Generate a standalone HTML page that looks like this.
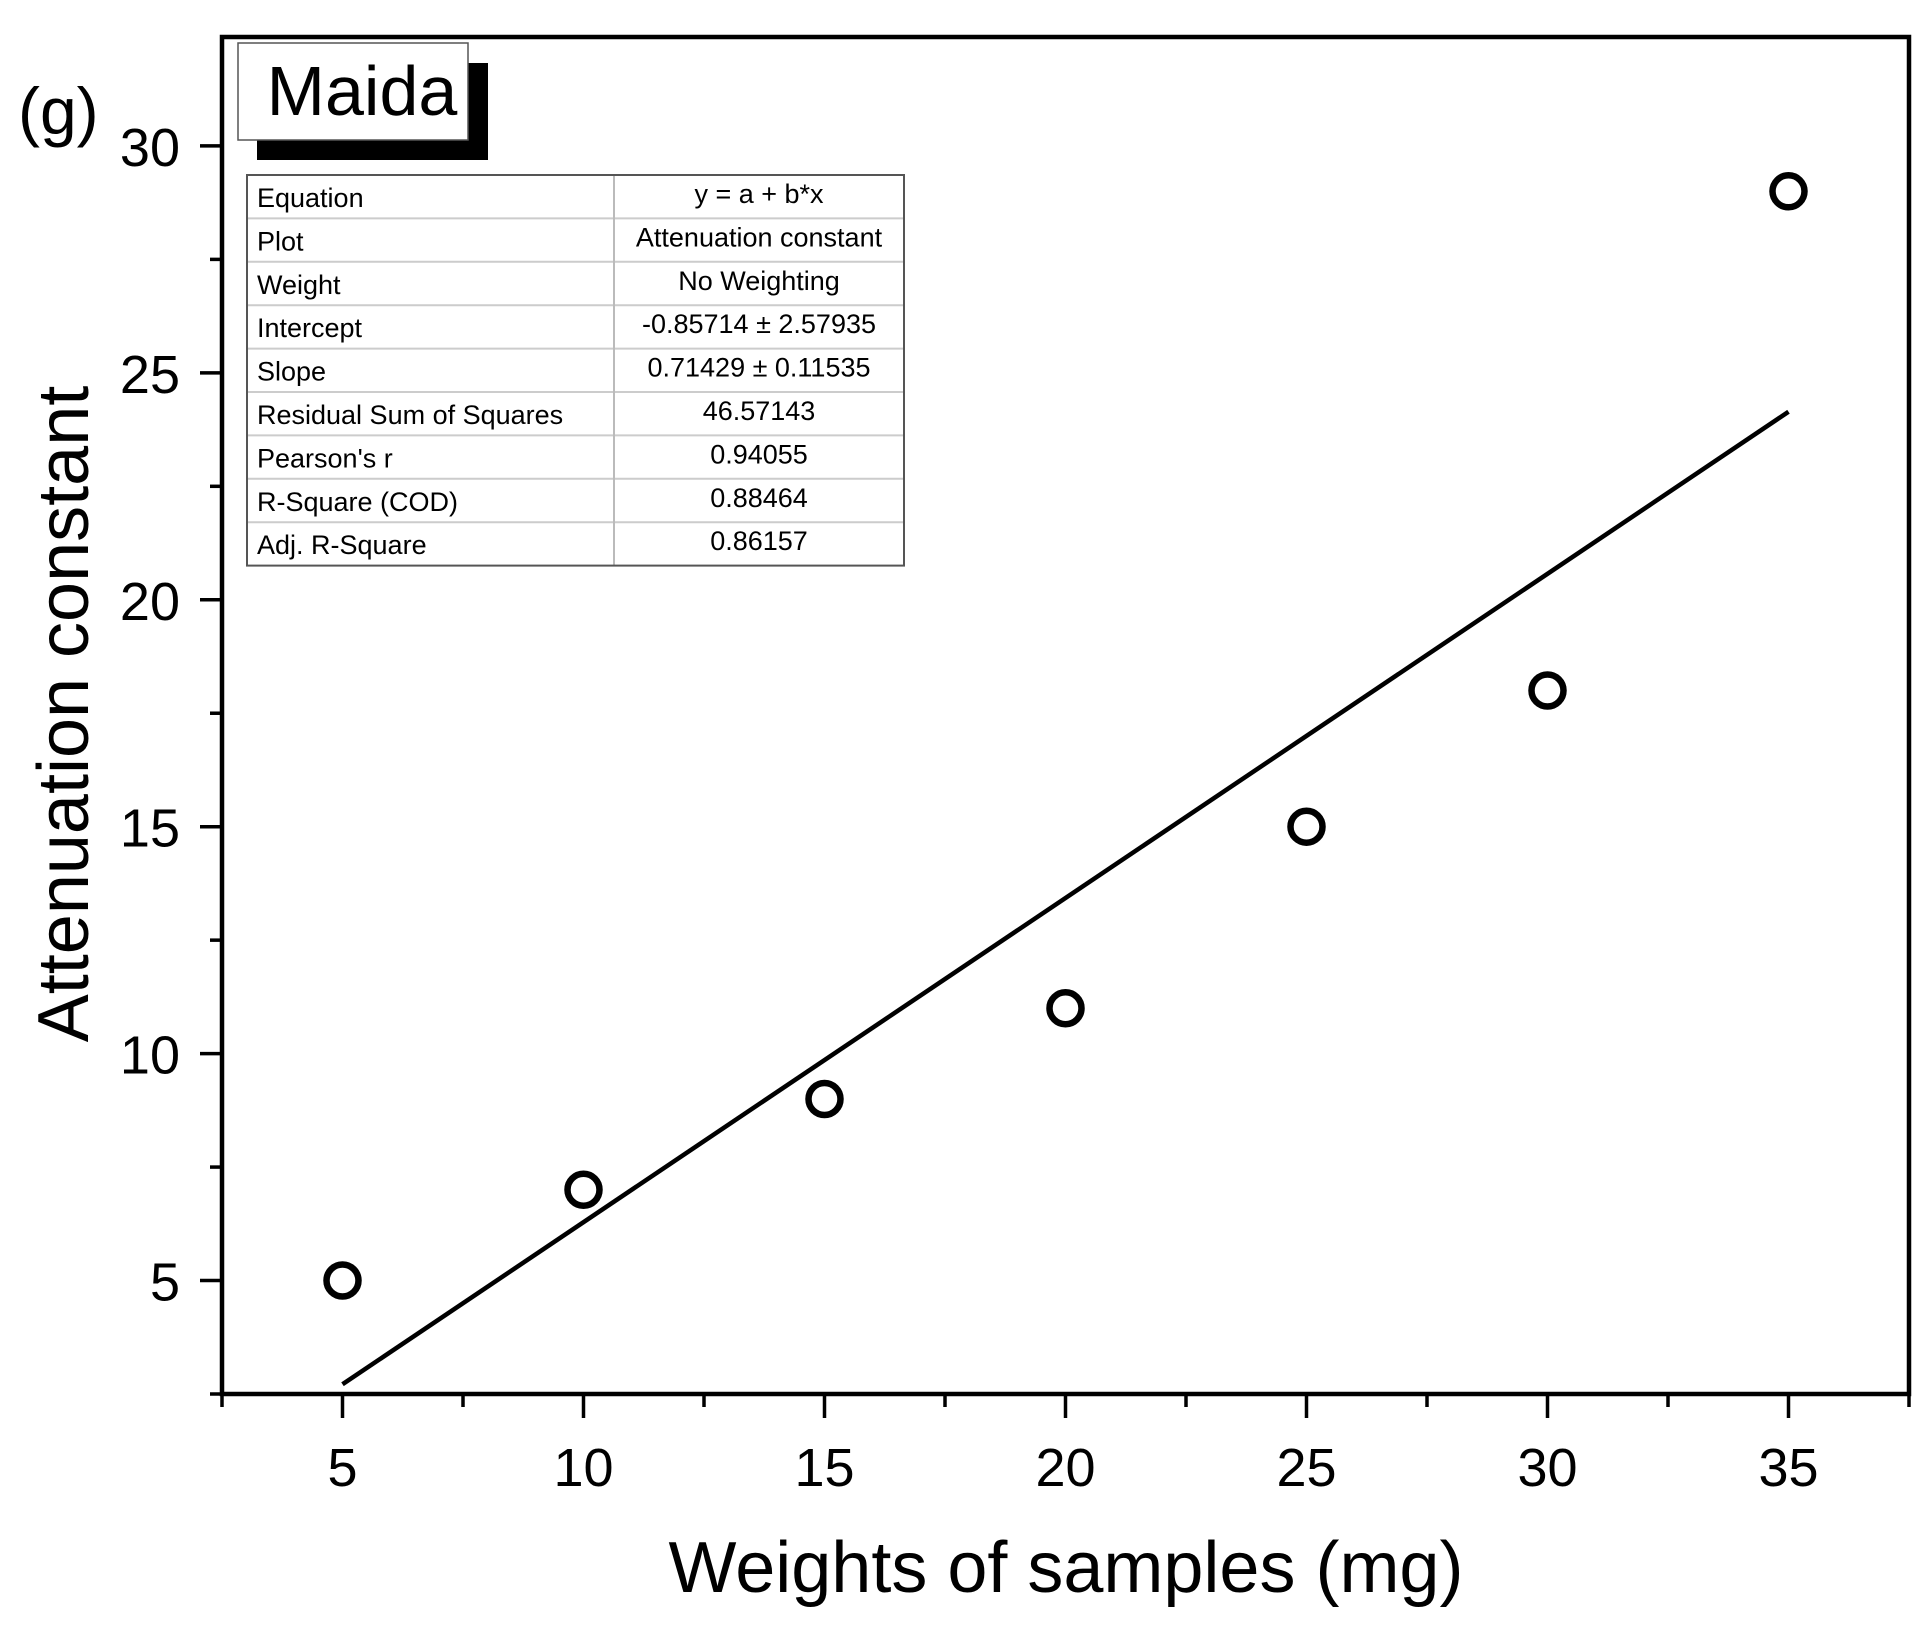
<!DOCTYPE html>
<html><head><meta charset="utf-8"><style>
html,body{margin:0;padding:0;background:#fff;}
svg{display:block;font-family:"Liberation Sans",sans-serif;}
</style></head><body>
<svg id="chart" width="1931" height="1640" viewBox="0 0 1931 1640" xmlns="http://www.w3.org/2000/svg">
<rect width="1931" height="1640" fill="#fff"/>
<g id="axes"></g>
<g id="fit"></g>
<g id="pts"></g>
<text x="18" y="134" font-size="66">(g)</text>
<rect x="257" y="63" width="231" height="97" fill="#000"/>
<rect x="238" y="43" width="230" height="97" fill="#fff" stroke="#555" stroke-width="1.5"/>
<text x="362" y="115" font-size="70" text-anchor="middle">Maida</text>
<g id="table"></g>
<text x="1066" y="1592" font-size="72" text-anchor="middle">Weights of samples (mg)</text>
<text transform="translate(88,714) rotate(-90)" font-size="72" text-anchor="middle">Attenuation constant</text>
</svg>
<script>
const xData = [5, 10, 15, 20, 25, 30, 35];
const yData = [5, 7, 9, 11, 15, 18, 29];
const intercept = -0.85714;
const slope = 0.71429;
const xTicks = [5, 10, 15, 20, 25, 30, 35];
const yTicks = [5, 10, 15, 20, 25, 30];
const tableLabels = ["Equation","Plot","Weight","Intercept","Slope","Residual Sum of Squares","Pearson's r","R-Square (COD)","Adj. R-Square"];
const tableValues = ["y = a + b*x","Attenuation constant","No Weighting","-0.85714 ± 2.57935","0.71429 ± 0.11535","46.57143","0.94055","0.88464","0.86157"];

const NS = "http://www.w3.org/2000/svg";
const L = 222, R = 1909, T = 37, B = 1394;
const xMin = 2.5, xMax = 37.5, yMin = 2.5, yMax = 32.4;
const X = v => L + (v - xMin) / (xMax - xMin) * (R - L);
const Y = v => B - (v - yMin) / (yMax - yMin) * (B - T);
function mk(tag, attrs, parent, text) {
  const e = document.createElementNS(NS, tag);
  for (const k in attrs) e.setAttribute(k, attrs[k]);
  if (text !== undefined) e.textContent = text;
  parent.appendChild(e);
  return e;
}
const axes = document.getElementById('axes');
let fr = mk('rect', {x: L, y: T, width: R - L, height: B - T, fill: 'none', stroke: '#000', 'stroke-width': 4.5}, axes);


xTicks.forEach(v => {
  let t = mk('line', {x1: X(v), x2: X(v), y1: B, y2: B + 24, stroke: '#000', 'stroke-width': 3.5}, axes);
  
  
  let m = mk('line', {x1: X(v - 2.5), x2: X(v - 2.5), y1: B, y2: B + 13, stroke: '#000', 'stroke-width': 3.5}, axes);
  
  
  let lb = mk('text', {x: X(v), y: 1486, 'font-size': 54, 'text-anchor': 'middle'}, axes, String(v));
  
  
});
let m2 = mk('line', {x1: X(37.5), x2: X(37.5), y1: B, y2: B + 13, stroke: '#000', 'stroke-width': 3.5}, axes);


yTicks.forEach(v => {
  let t = mk('line', {x1: L - 22, x2: L, y1: Y(v), y2: Y(v), stroke: '#000', 'stroke-width': 3.5}, axes);
  
  
  let m = mk('line', {x1: L - 12, x2: L, y1: Y(v - 2.5), y2: Y(v - 2.5), stroke: '#000', 'stroke-width': 3.5}, axes);
  
  
  let lb = mk('text', {x: 180, y: Y(v) + 20, 'font-size': 54, 'text-anchor': 'end'}, axes, String(v));
  
  
});
const fit = document.getElementById('fit');
const x0 = xData[0], x1 = xData[xData.length - 1];
let fl = mk('line', {x1: X(x0), y1: Y(intercept + slope * x0), x2: X(x1), y2: Y(intercept + slope * x1), stroke: '#000', 'stroke-width': 4.5}, fit);


const pts = document.getElementById('pts');
xData.forEach((v, i) => {
  let c = mk('circle', {cx: X(v), cy: Y(yData[i]), r: 16, fill: 'none', stroke: '#000', 'stroke-width': 6.5}, pts);
  
  
});
const tb = document.getElementById('table');
const tL = 247, tR = 904, tD = 614, tT = 175, rh = 43.4;
tableLabels.forEach((lab, i) => {
  const y = tT + i * rh;
  let a = mk('text', {x: tL + 10, y: y + 32, 'font-size': 27}, tb, lab);
  
  
  let b = mk('text', {x: (tD + tR) / 2, y: y + 28, 'font-size': 27, 'text-anchor': 'middle'}, tb, tableValues[i]);
  
  
  if (i > 0) {
    let ln = mk('line', {x1: tL, x2: tR, y1: y, y2: y, stroke: '#ccc', 'stroke-width': 2}, tb);
    
    
  }
});
let cd = mk('line', {x1: tD, x2: tD, y1: tT, y2: tT + 9 * rh, stroke: '#bbb', 'stroke-width': 2}, tb);


let tbr = mk('rect', {x: tL, y: tT, width: tR - tL, height: 9 * rh, fill: 'none', stroke: '#555', 'stroke-width': 2}, tb);


</script>
</body></html>
